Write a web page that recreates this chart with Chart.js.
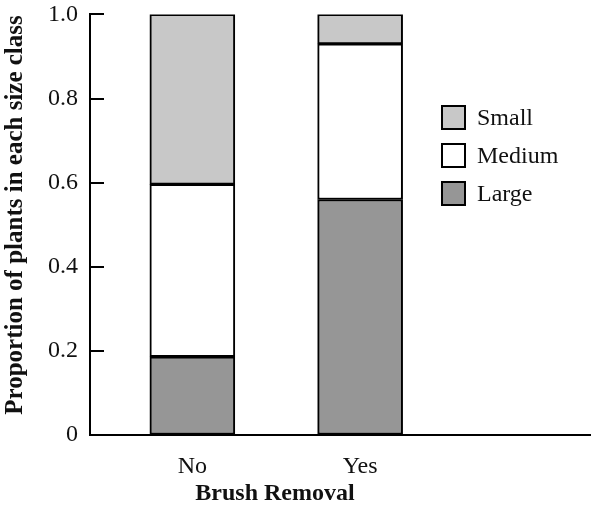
<!DOCTYPE html>
<html lang="en">
<head>
    <meta charset="UTF-8">
    <title>Brush Removal</title>
    <script src="https://cdn.jsdelivr.net/npm/chart.js"></script>
    <style>
        body { margin: 0; background: #fff; }
        .wrap { width: 592px; height: 507px; }
    </style>
</head>
<body>
    <div class="wrap"><canvas id="chart"></canvas></div>
    <script>
        // dane
        const categories = ['No', 'Yes'];
        const large = [0.186, 0.56];
        const medium = [0.41, 0.37];
        const small = [0.404, 0.07];
        const yTicks = [0, 0.2, 0.4, 0.6, 0.8, 1.0];
        const xTitle = 'Brush Removal';
        const yTitle = 'Proportion of plants in each size class';

        const serif = '"Liberation Serif", "Times New Roman", serif';

        function points(arr) {
            return arr.map((v, i) => ({ x: i, y: v }));
        }

        // ticki osi Y do wewnatrz, tytuly osi + legenda w obszarze wykresu
        const extras = {
            id: 'extras',
            afterDraw(chart) {
                const ctx = chart.ctx;
                const y = chart.scales.y;
                const area = chart.chartArea;
                ctx.save();
                ctx.strokeStyle = '#000';
                ctx.lineWidth = 2;
                yTicks.forEach(t => {
                    const py = Math.round(y.getPixelForValue(t));
                    ctx.beginPath();
                    ctx.moveTo(area.left, py);
                    ctx.lineTo(area.left + 14, py);
                    ctx.stroke();
                });

                // tytuly osi (przesuniete jak w oryginale)
                ctx.fillStyle = '#111';
                ctx.textAlign = 'center';
                ctx.textBaseline = 'middle';
                ctx.font = 'bold 24px ' + serif;
                ctx.fillText(xTitle, 275, 494);
                ctx.save();
                ctx.translate(16, 215);
                ctx.rotate(-Math.PI / 2);
                ctx.font = 'bold 25px ' + serif;
                ctx.fillText(yTitle, 0, 0);
                ctx.restore();

                const sets = chart.data.datasets.slice().reverse();
                ctx.font = '24px ' + serif;
                ctx.textAlign = 'left';
                sets.forEach((ds, i) => {
                    const top = 106 + i * 38;
                    ctx.fillStyle = ds.backgroundColor;
                    ctx.fillRect(442, top, 23, 23);
                    ctx.lineWidth = 2;
                    ctx.strokeStyle = '#000';
                    ctx.strokeRect(442, top, 23, 23);
                    ctx.fillStyle = '#111';
                    ctx.fillText(ds.label, 477, top + 13);
                });
                ctx.restore();
            }
        };

        new Chart(document.getElementById('chart'), {
            type: 'bar',
            data: {
                datasets: [
                    { label: 'Large', data: points(large), backgroundColor: '#969696' },
                    { label: 'Medium', data: points(medium), backgroundColor: '#ffffff' },
                    { label: 'Small', data: points(small), backgroundColor: '#c8c8c8' }
                ].map(d => Object.assign(d, {
                    borderColor: '#000',
                    borderWidth: 2,
                    barThickness: 85,
                    borderSkipped: false
                }))
            },
            options: {
                responsive: true,
                maintainAspectRatio: false,
                animation: false,
                layout: { padding: { top: 0, right: 2, left: 0, bottom: 0 } },
                plugins: {
                    legend: { display: false },
                    tooltip: { enabled: false }
                },
                scales: {
                    x: {
                        type: 'linear',
                        stacked: true,
                        offset: false,
                        min: -0.61,
                        max: 2.37,
                        afterBuildTicks: axis => {
                            axis.ticks = categories.map((c, i) => ({ value: i }));
                        },
                        afterFit: axis => { axis.height = 72; },
                        grid: { display: false, drawTicks: false },
                        border: { display: true, color: '#000', width: 2 },
                        ticks: {
                            color: '#111',
                            font: { family: serif, size: 24 },
                            padding: 17,
                            maxRotation: 0,
                            callback: v => categories[v] ?? ''
                        }
                    },
                    y: {
                        stacked: true,
                        min: 0,
                        max: 1,
                        afterBuildTicks: axis => {
                            axis.ticks = yTicks.map(v => ({ value: v }));
                        },
                        afterFit: axis => { axis.width = 90; },
                        grid: {
                            display: true,
                            drawOnChartArea: false,
                            drawTicks: true,
                            tickLength: 12,
                            tickColor: 'rgba(0,0,0,0)'
                        },
                        border: { display: true, color: '#000', width: 2 },
                        ticks: {
                            color: '#111',
                            font: { family: serif, size: 24 },
                            padding: 0,
                            callback: v => v === 0 ? '0' : v.toFixed(1)
                        }
                    }
                }
            },
            plugins: [extras]
        });
    </script>
</body>
</html>
